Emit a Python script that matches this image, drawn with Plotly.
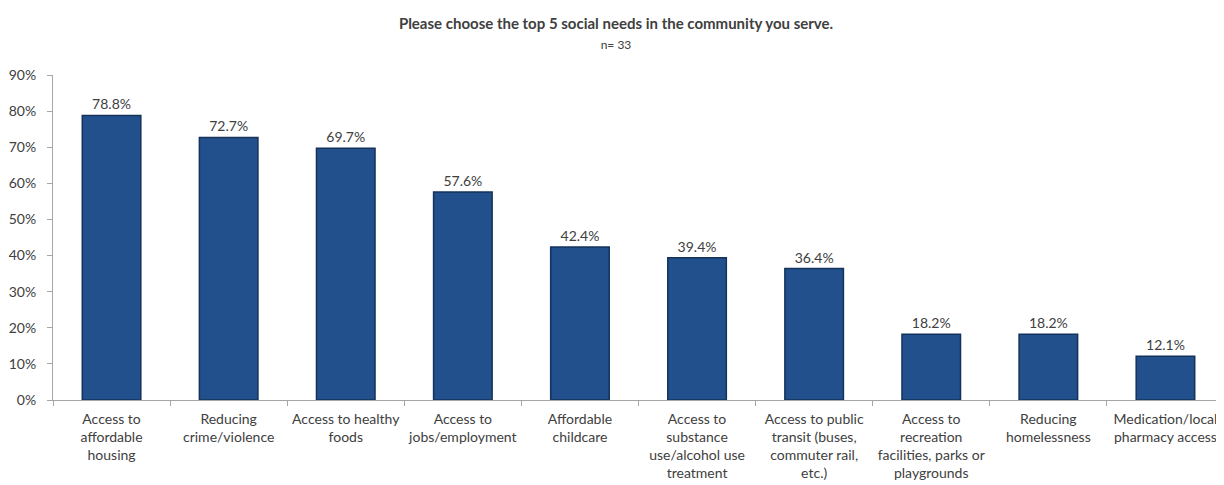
import plotly.graph_objects as go

categories = [
    "Access to<br>affordable<br>housing",
    "Reducing<br>crime/violence",
    "Access to healthy<br>foods",
    "Access to<br>jobs/employment",
    "Affordable<br>childcare",
    "Access to<br>substance<br>use/alcohol use<br>treatment",
    "Access to public<br>transit (buses,<br>commuter rail,<br>etc.)",
    "Access to<br>recreation<br>facilities, parks or<br>playgrounds",
    "Reducing<br>homelessness",
    "Medication/local<br>pharmacy access",
]
values = [78.8, 72.7, 69.7, 57.6, 42.4, 39.4, 36.4, 18.2, 18.2, 12.1]
tick_vals = [0, 10, 20, 30, 40, 50, 60, 70, 80, 90]
tick_text = [f"{v}%" for v in tick_vals]

FONT = "Lato, 'Open Sans', sans-serif"

fig = go.Figure(go.Bar(
    x=categories,
    y=values,
    width=0.5,
    marker=dict(color="#22508c", line=dict(color="#14325a", width=1.5)),
    text=[f"{v:.1f}%" for v in values],
    textposition="outside",
    textfont=dict(family=FONT, size=14, color="#404040"),
    cliponaxis=False,
))

fig.update_layout(
    width=1216, height=477,
    margin=dict(l=45, r=0, t=67, b=85),
    paper_bgcolor="white", plot_bgcolor="white",
    showlegend=False,
    title=dict(
        text="<b>Please choose the top 5 social needs in the community you serve.</b><br><span style='font-size:12px'>n= 33</span>",
        x=0.5, xanchor="center", y=0.955, yanchor="top",
        font=dict(family=FONT, size=15, color="#404040"),
    ),
    font=dict(family=FONT, size=14, color="#404040"),
)
fig.update_yaxes(
    range=[0, 90], tickvals=tick_vals, ticktext=tick_text,
    showgrid=False, zeroline=False, automargin=False,
    showline=True, linecolor="#a6a6a6", linewidth=1,
    ticks="outside", ticklen=5, tickcolor="#a6a6a6",
    ticklabelstandoff=8,
    tickfont=dict(family=FONT, size=14, color="#404040"),
)
fig.update_xaxes(
    showgrid=False, showline=True, linecolor="#a6a6a6", linewidth=1, automargin=False,
    ticks="outside", tickson="boundaries", ticklen=5, tickcolor="#a6a6a6",
    tickfont=dict(family=FONT, size=14, color="#404040"),
    ticklabelstandoff=6,
    tickangle=0,
)

fig.write_html("out.html")
